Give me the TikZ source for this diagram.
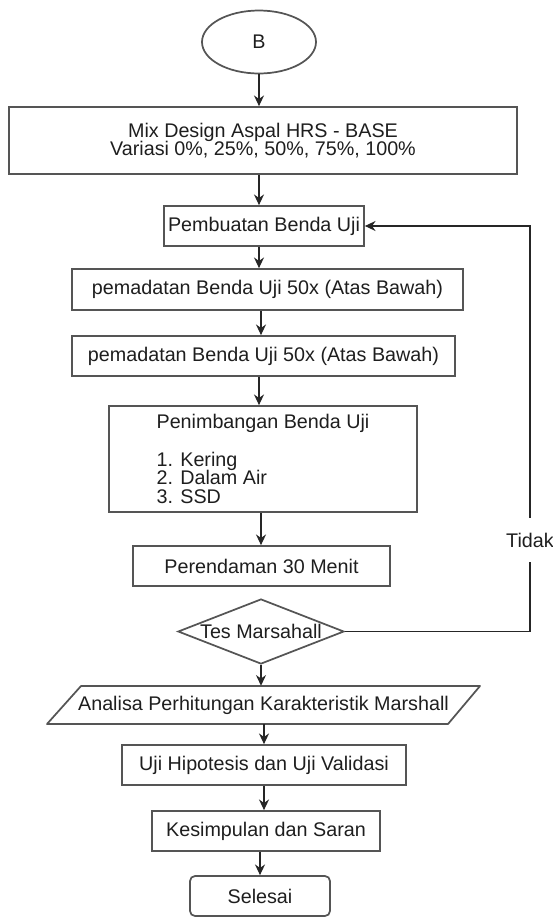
\documentclass[tikz,border=0pt]{standalone}
\usepackage{fontspec}
\setmainfont{Liberation Sans}
\usepackage{xcolor}
\usepackage{tikz}
\usetikzlibrary{arrows.meta,positioning,shapes.geometric}
\definecolor{fcline}{RGB}{85,85,85}
\definecolor{fctext}{RGB}{30,30,30}
\newlength{\px}
\setlength{\px}{0.75pt}
\tikzset{
  fcbox/.style={draw=fcline, line width=1.3pt, inner sep=0pt, minimum height=40\px, text=fctext},
  fcflow/.style={draw=black!85, line width=0.9pt, -{Stealth[length=8pt,width=7.5pt]}},
}

\begin{document}
\begin{tikzpicture}[x=0.75pt,y=-0.75pt, font=\fontsize{14.8pt}{14pt}\selectfont]
    \useasboundingbox (0,0) rectangle (553,918);

    % start
    \node[fcbox, ellipse, minimum width=114\px, minimum height=63\px] (awal) at (259,42) {B};

    % process boxes
    \node[fcbox, minimum width=508\px, minimum height=67\px, align=center] (mix) at (263,140.5)
        {Mix Design Aspal HRS - BASE\\Variasi 0\%, 25\%, 50\%, 75\%, 100\%};
    \node[fcbox, minimum width=200\px] (pembuatan) at (264,226) {Pembuatan Benda Uji};
    \node[fcbox, minimum width=391\px, minimum height=41\px] (padat1) at (267.5,289.5) {pemadatan Benda Uji 50x (Atas Bawah)};
    \node[fcbox, minimum width=383\px] (padat2) at (263.5,356) {pemadatan Benda Uji 50x (Atas Bawah)};
    \node[fcbox, minimum width=308\px, minimum height=106\px, align=left] (timbang) at (263,459)
        {Penimbangan Benda Uji\\[14pt]1. Kering\\2. Dalam Air\\3. SSD};
    \node[fcbox, minimum width=257\px] (rendam) at (261.5,566) {Perendaman 30 Menit};

    % decision
    \node[fcbox, diamond, minimum width=166\px, minimum height=65\px,
          label={[text=fctext]center:Tes Marsahall}] (tes) at (261,631.5) {};

    % input/output
    \node[inner sep=0pt, minimum height=38\px, text=fctext] (analisa) at (263.5,705) {Analisa Perhitungan Karakteristik Marshall};
    \draw[fcline, line width=1.3pt, line join=round] (47,724) -- (81,686) -- (480,686) -- (448,724) -- cycle;

    \node[fcbox, minimum width=284\px] (hipotesis) at (264,765) {Uji Hipotesis dan Uji Validasi};
    \node[fcbox, minimum width=228\px] (simpulan) at (266,831) {Kesimpulan dan Saran};
    \node[fcbox, rounded corners=5\px, minimum width=140\px] (selesai) at (260,896) {Selesai};

    % main flow
    \draw[fcflow] (awal.south) -- (awal.south |- mix.north);
    \draw[fcflow] (mix.south -| awal.south) -- (awal.south |- pembuatan.north);
    \draw[fcflow] (pembuatan.south -| awal.south) -- (awal.south |- padat1.north);
    \draw[fcflow] (padat1.south -| tes.north) -- (tes.north |- padat2.north);
    \draw[fcflow] (padat2.south -| awal.south) -- (awal.south |- timbang.north);
    \draw[fcflow] (timbang.south -| tes.north) -- (tes.north |- rendam.north);
    \draw[fcflow] (tes.south) -- (tes.south |- analisa.north);
    \draw[fcflow] (analisa.south -| hipotesis.north) -- (hipotesis.north);
    \draw[fcflow] (hipotesis.south) -- (hipotesis.south |- simpulan.north);
    \draw[fcflow] (simpulan.south -| selesai.north) -- (selesai.north);

    % loop back
    \coordinate (balik) at (530,540);
    \draw[fcflow] (tes.east) -| (balik) |- (pembuatan.east);
    \node[fill=white, inner xsep=1pt, inner ysep=11pt, text=fctext] (tidak) at (balik) {Tidak};
\end{tikzpicture}
\end{document}
